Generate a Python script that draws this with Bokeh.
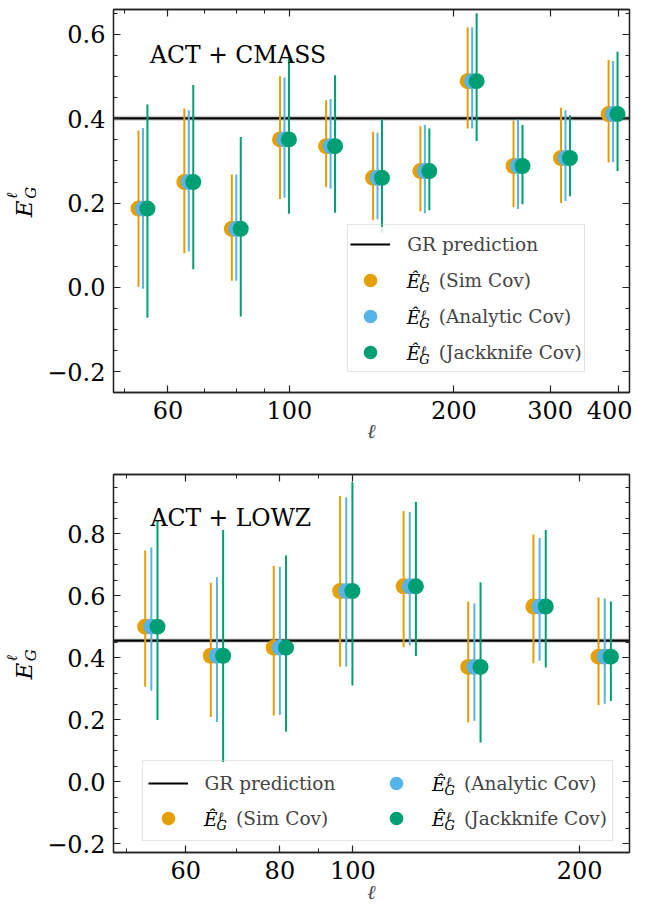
import numpy as np
from bokeh.plotting import figure
from bokeh.models import (FixedTicker, CustomJSTickFormatter, LinearAxis, LogAxis,
                          Label, Legend, LegendItem, Range1d, BoxAnnotation)
from bokeh.core.properties import value
from bokeh.layouts import column, row
from bokeh.embed import file_html
from bokeh.resources import INLINE

# ---------------- data: ACT + CMASS ----------------
ell_cmass = [54, 65.5, 80, 98, 119, 145, 177, 216, 262, 320, 391]
eg_cmass = [0.187, 0.250, 0.139, 0.351, 0.335, 0.260, 0.276, 0.489, 0.288, 0.307, 0.411]
sim_lo_cmass = [0.002, 0.081, 0.016, 0.210, 0.238, 0.160, 0.180, 0.377, 0.190, 0.200, 0.296]
sim_hi_cmass = [0.372, 0.424, 0.268, 0.501, 0.444, 0.369, 0.382, 0.617, 0.396, 0.426, 0.539]
ana_lo_cmass = [-0.003, 0.085, 0.016, 0.213, 0.234, 0.162, 0.176, 0.377, 0.186, 0.205, 0.297]
ana_hi_cmass = [0.378, 0.420, 0.268, 0.498, 0.447, 0.367, 0.385, 0.617, 0.398, 0.420, 0.537]
jk_lo_cmass = [-0.072, 0.043, -0.069, 0.175, 0.177, 0.130, 0.183, 0.347, 0.197, 0.216, 0.276]
jk_hi_cmass = [0.434, 0.480, 0.357, 0.543, 0.503, 0.398, 0.377, 0.650, 0.385, 0.408, 0.559]
gr_cmass = 0.401
gr_band_cmass = 0.006

# ---------------- data: ACT + LOWZ ----------------
ell_lowz = [54, 66, 80, 98, 119, 145, 177, 216]
eg_lowz = [0.500, 0.406, 0.432, 0.615, 0.630, 0.370, 0.565, 0.403]
sim_lo_lowz = [0.306, 0.208, 0.213, 0.371, 0.434, 0.191, 0.382, 0.247]
sim_hi_lowz = [0.746, 0.642, 0.696, 0.922, 0.873, 0.581, 0.797, 0.594]
ana_lo_lowz = [0.293, 0.192, 0.215, 0.371, 0.439, 0.196, 0.390, 0.251]
ana_hi_lowz = [0.755, 0.659, 0.693, 0.917, 0.870, 0.575, 0.786, 0.591]
jk_lo_lowz = [0.199, 0.063, 0.161, 0.310, 0.405, 0.126, 0.368, 0.260]
jk_hi_lowz = [0.842, 0.812, 0.730, 0.967, 0.903, 0.643, 0.812, 0.581]
gr_lowz = 0.455
gr_band_lowz = 0.007

# tick labels
xticks_cmass = [60, 100, 200, 300, 400]
xminor_cmass = [50, 70, 80, 90]
xticks_lowz = [60, 80, 100, 200]
xminor_lowz = [50, 70, 90]
yticks_cmass = [-0.2, 0.0, 0.2, 0.4, 0.6]
yticks_lowz = [-0.2, 0.0, 0.2, 0.4, 0.6, 0.8]

series_names = ["(Sim Cov)", "(Analytic Cov)", "(Jackknife Cov)"]
COLORS = ["#E69F00", "#56B4E9", "#009E73"]
FONT = "DejaVu Serif"
AX = "#222222"
OFFSET = 1.019
SP = "\u2003\u2002\u2009"
LABW = 42          # strip that carries the rotated y label
TOTW = 632         # total layout width
FL = 113           # frame left (layout coords)
FR = 629           # frame right


def math_label(p, sx, sy, size, small):
    """E-hat with superscript ell and subscript G (legend text)."""
    for dx, dy, txt, sz in ((0, 0, "\u00ca", size), (14.2, 3.5, "\u2113", small),
                            (12.5, -6, "G", small)):
        p.add_layout(Label(x=sx + dx, y=sy + dy, x_units="screen", y_units="screen",
                           text=txt, text_font=FONT, text_font_style="italic",
                           text_font_size=sz, text_baseline="middle",
                           text_align="left", text_color="black", level="overlay"))


def ylabel_strip(H, ft, fb, e_xy, s_xy, g_xy):
    # frame of this strip is aligned with the main plot frame (ft..fb);
    # ranges are chosen so that data units equal layout pixels
    q = figure(width=LABW, height=H, x_range=Range1d(0, LABW), y_range=Range1d(fb, ft),
               output_backend="svg", toolbar_location=None,
               x_axis_location=None, y_axis_location=None,
               min_border_left=0, min_border_right=0, min_border_top=0,
               min_border_bottom=0)
    q.outline_line_color = None
    q.background_fill_color = "white"
    q.border_fill_color = "white"
    q.xgrid.visible = False
    q.ygrid.visible = False
    for (x, y), txt, sz in ((e_xy, "E", "23px"), (s_xy, "\u2113", "15px"),
                            (g_xy, "G", "15px")):
        q.text(x=[x], y=[y], text=[txt], angle=np.pi / 2,
               text_font=value(FONT), text_font_style="italic",
               text_font_size=sz, text_baseline="alphabetic",
               text_align="left", text_color="black")
    return q


def panel(H, bt, bb, xr, yr, xt, xm, yt, ell, eg, bounds, gr, band,
          title, leg, xstand):
    p = figure(width=TOTW - LABW, height=H, x_axis_type="log",
               x_range=Range1d(*xr), y_range=Range1d(*yr),
               output_backend="svg", toolbar_location=None,
               min_border_left=FL - LABW, min_border_right=TOTW - FR,
               min_border_top=bt, min_border_bottom=bb)
    p.xgrid.visible = False
    p.ygrid.visible = False
    p.outline_line_color = AX
    p.outline_line_width = 1.3
    p.background_fill_color = "white"
    p.border_fill_color = "white"

    xtick = FixedTicker(ticks=xt, minor_ticks=xm)
    ymin = list(np.round(np.arange(-0.25, yr[1] + 1e-9, 0.05), 3))
    ytick = FixedTicker(ticks=yt, minor_ticks=ymin)
    xfmt = CustomJSTickFormatter(code="return Math.round(tick).toString();")
    yfmt = CustomJSTickFormatter(code="""
        const v = Math.abs(tick) < 1e-9 ? 0 : tick;
        return (v < 0 ? '\u2212' : '') + Math.abs(v).toFixed(1);""")
    blank = CustomJSTickFormatter(code="return '';")

    def style(ax, labels=True):
        ax.axis_line_color = AX
        ax.axis_line_width = 1.3
        ax.major_tick_line_color = AX
        ax.minor_tick_line_color = AX
        ax.major_tick_line_width = 1.2
        ax.minor_tick_line_width = 1.0
        ax.major_tick_in = 7
        ax.major_tick_out = 0
        ax.minor_tick_in = 4
        ax.minor_tick_out = 0
        ax.major_label_text_font = FONT
        ax.major_label_text_color = "black"
        if labels:
            ax.major_label_text_font_size = "24px"
            ax.major_label_standoff = 8
        else:
            ax.major_label_text_font_size = "0px"
            ax.major_label_standoff = 0

    p.xaxis.ticker = xtick
    p.xaxis.formatter = xfmt
    p.yaxis.ticker = ytick
    p.yaxis.formatter = yfmt
    style(p.xaxis[0])
    style(p.yaxis[0])
    p.xaxis.axis_label = "\u2113"
    p.xaxis.axis_label_text_font = FONT
    p.xaxis.axis_label_text_font_style = "italic"
    p.xaxis.axis_label_text_font_size = "20px"
    p.xaxis.axis_label_standoff = xstand

    ra = LinearAxis(ticker=ytick, formatter=blank)
    style(ra, labels=False)
    p.add_layout(ra, "right")
    ta = LogAxis(ticker=xtick, formatter=blank)
    style(ta, labels=False)
    p.add_layout(ta, "above")

    # GR prediction band + line
    p.varea(x=[xr[0], xr[1]], y1=[gr - band] * 2, y2=[gr + band] * 2,
            fill_color="#888888", fill_alpha=0.4)
    gr_r = p.line(x=[xr[0], xr[1]], y=[gr, gr], line_color="black", line_width=2.2)

    ell = np.array(ell, dtype=float)
    xs = [ell / OFFSET, ell, ell * OFFSET]
    marks = []
    for (lo, hi), x, c in zip(bounds, xs, COLORS):
        p.segment(x0=x, y0=lo, x1=x, y1=hi, line_color=c, line_width=2)
        marks.append(p.scatter(x=x, y=eg, size=16, marker="circle",
                               fill_color=c, line_color=None))

    # semi-opaque white backing for the (transparent) legend
    bx = leg["box"]
    p.add_layout(BoxAnnotation(left=bx[0], right=bx[1], bottom=bx[2], top=bx[3],
                               left_units="screen", right_units="screen",
                               bottom_units="screen", top_units="screen",
                               fill_color="white", fill_alpha=0.85,
                               line_color=None))

    items = [LegendItem(label="GR prediction", renderers=[gr_r])]
    for name, r in zip(series_names, marks):
        items.append(LegendItem(label=SP + name, renderers=[r]))
    legend = Legend(items=items, location=leg["loc"], padding=leg["pad"],
                    spacing=leg["spacing"], glyph_width=40, glyph_height=34,
                    label_standoff=17, label_text_font=FONT,
                    label_text_font_size="18.5px", border_line_color="#cccccc",
                    border_line_width=1.2, background_fill_alpha=0.0, margin=0,
                    label_width=leg.get("label_width", 20))
    if leg.get("ncols"):
        legend.ncols = leg["ncols"]
    p.add_layout(legend, "center")

    for (sx, sy) in leg["math"]:
        math_label(p, sx, sy, "18.5px", "13px")

    p.add_layout(Label(x=title[1], y=title[2], x_units="screen", y_units="screen",
                       text=title[0], text_font=FONT, text_font_size="23.5px",
                       text_baseline="alphabetic", text_align="left",
                       text_color="black"))
    return p


# y-label glyph anchors (layout x of baseline, y where the text starts)
YL_E_X, YL_S_X, YL_G_X = 23.7, 11.5, 30.3

# ---- top panel: layout coords, frame 113..629 x 9..392 ----
H1, FT1, FB1 = 446, 9, 392
top_rows = [281.3, 317.3, 353.3]
leg1 = dict(loc=(347.3 - FL, FB1 - 372.3), pad=2, spacing=2,
            box=(347.3 - FL, 584.6 - FL, FB1 - 372.3, FB1 - 226.3),
            math=[(406.3 - FL, FB1 - rc) for rc in top_rows])
p1 = panel(H1, FT1, H1 - FB1, (47.7, 419.0), (-0.249, 0.659),
           xticks_cmass, xminor_cmass, yticks_cmass, ell_cmass, eg_cmass,
           [(sim_lo_cmass, sim_hi_cmass), (ana_lo_cmass, ana_hi_cmass),
            (jk_lo_cmass, jk_hi_cmass)],
           gr_cmass, gr_band_cmass, ("ACT + CMASS", 149.6 - FL, FB1 - 54), leg1, -3)
yc1 = (FT1 + FB1) / 2.0
l1 = ylabel_strip(H1, FT1, FB1, (YL_E_X, yc1 + 16.2), (YL_S_X, yc1 - 2.2),
                  (YL_G_X, yc1 - 2.2))

# ---- bottom panel: frame 113..629 x 474..855 ----
H2, FT2, FB2 = 460, 474, 855
leg2 = dict(loc=(141.6 - FL, 11), pad=5, spacing=1, ncols=2, label_width=170,
            box=(141.6 - FL, 612.9 - FL, 11, 11 + 79),
            math=[(203.6 - FL, FB2 - 822), (431.6 - FL, FB2 - 787),
                  (431.6 - FL, FB2 - 822)])
p2 = panel(H2, FT2 - H1, H1 + H2 - FB2, (48.1, 233.0), (-0.229, 0.991),
           xticks_lowz, xminor_lowz, yticks_lowz, ell_lowz, eg_lowz,
           [(sim_lo_lowz, sim_hi_lowz), (ana_lo_lowz, ana_hi_lowz),
            (jk_lo_lowz, jk_hi_lowz)],
           gr_lowz, gr_band_lowz, ("ACT + LOWZ", 150 - FL, FB2 - 520.4), leg2, -2)
yc2 = (FT2 + FB2) / 2.0
l2 = ylabel_strip(H2, FT2, FB2, (YL_E_X, yc2 + 16.2), (YL_S_X, yc2 - 2.2),
                  (YL_G_X, yc2 - 2.2))

layout = column(row(l1, p1, spacing=0), row(l2, p2, spacing=0), spacing=0)
open("out.html", "w").write(file_html(layout, INLINE))
